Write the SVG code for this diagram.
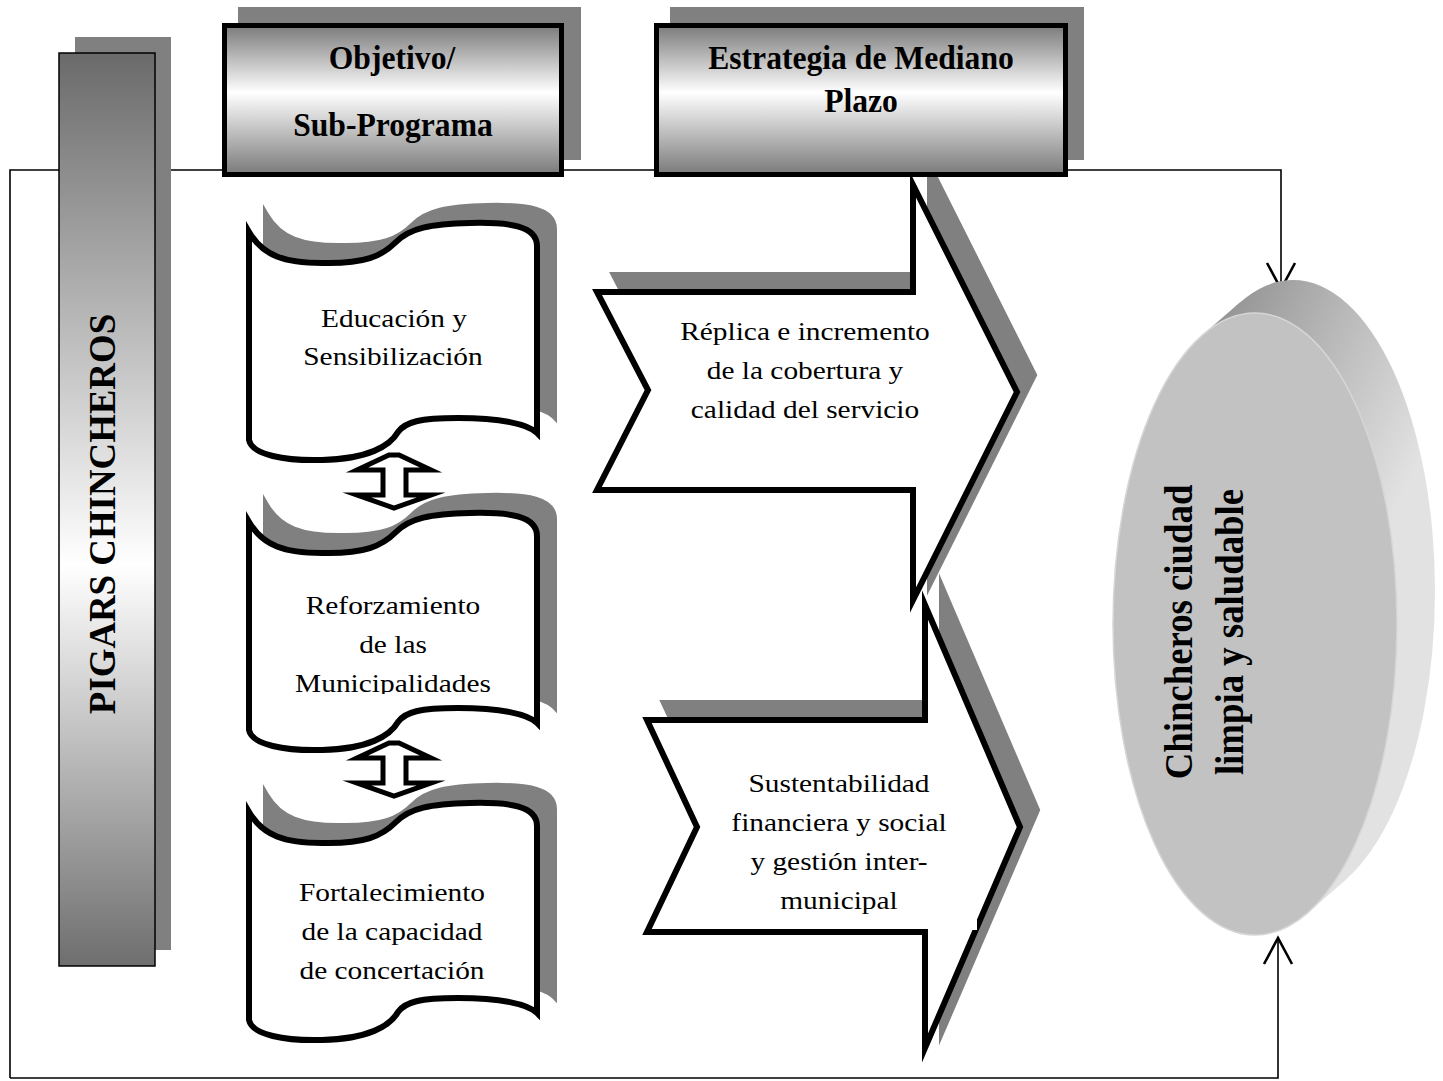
<svg xmlns="http://www.w3.org/2000/svg" width="1443" height="1081" viewBox="0 0 1443 1081">
<style>
.bg{fill:#ffffff}
.frame{fill:none;stroke:#000;stroke-width:1.6}
.shadow{fill:#808080;stroke:#808080;stroke-width:6;stroke-linejoin:miter;stroke-miterlimit:10}
.shadowbox{fill:#808080}
.front{fill:#ffffff;stroke:#000;stroke-width:6;stroke-linejoin:miter;stroke-miterlimit:10}
.hdrbox{fill:url(#hdrGrad);stroke:#000;stroke-width:5}
.bar{fill:url(#barGrad);stroke:#000;stroke-width:1.5}
.dbl{fill:#fff;stroke:#000;stroke-width:5;stroke-linejoin:miter;stroke-miterlimit:10}
.hdr{font-family:"Liberation Serif","Times New Roman",serif;font-weight:bold;font-size:34px;text-anchor:middle;fill:#000}
.vert{font-family:"Liberation Serif","Times New Roman",serif;font-weight:bold;font-size:38px;text-anchor:middle;fill:#000}
.ell{font-family:"Liberation Serif","Times New Roman",serif;font-weight:bold;font-size:40px;text-anchor:middle;fill:#000}
.lbl{font-family:"Liberation Serif","Times New Roman",serif;font-size:26px;text-anchor:middle;fill:#000}
</style>
<defs>
<linearGradient id="hdrGrad" x1="0" y1="0" x2="0" y2="1">
<stop offset="0" stop-color="#7a7a7a"/>
<stop offset="0.45" stop-color="#ffffff"/>
<stop offset="1" stop-color="#7a7a7a"/>
</linearGradient>
<linearGradient id="barGrad" x1="0" y1="0" x2="0" y2="1">
<stop offset="0" stop-color="#6a6a6a"/>
<stop offset="0.56" stop-color="#ffffff"/>
<stop offset="1" stop-color="#6e6e6e"/>
</linearGradient>
<linearGradient id="sideGrad" gradientUnits="userSpaceOnUse" x1="1200" y1="300" x2="1440" y2="420">
<stop offset="0" stop-color="#8c8c8c"/>
<stop offset="0.45" stop-color="#b4b4b4"/>
<stop offset="1" stop-color="#e2e2e2"/>
</linearGradient>
<path id="wave" d="M 249,232 C 263,256 285,263 322,263 C 365,264 382,256 396,242 C 410,228 430,224 470,223 C 510,222 537,226 537,246 L 537,433 C 528,424 500,418 458,418 C 420,418 405,422 398,432 C 390,446 368,459 322,460 C 285,461 252,455 249,440 Z"/>
<path id="dblArrow" d="M 389,0 L 399,0 L 431,15 L 406,15 L 406,40 L 431,40 L 394,53 L 357,40 L 383,40 L 383,15 L 357,15 Z"/>
<marker id="openArrow" markerUnits="userSpaceOnUse" viewBox="-30 -17 32 34" refX="0" refY="0" markerWidth="32" markerHeight="34" orient="auto" overflow="visible">
<path d="M -26,-14 L 0,0 L -26,14" fill="none" stroke="#000" stroke-width="2.6"/>
</marker>
<clipPath id="clipMuni"><rect x="240" y="560" width="310" height="134"/></clipPath>
</defs>
<rect class="bg" x="0" y="0" width="1443" height="1081"/>

<g id="connectors">
<path class="frame" d="M 10,1078 L 10,170 L 1281,170 L 1281,289" marker-end="url(#openArrow)"/>
<path class="frame" d="M 10,1078 L 1278,1078 L 1278,938" marker-end="url(#openArrow)"/>
</g>

<g id="node-pigars">
<rect class="shadowbox" x="75" y="37" width="96" height="913"/>
<rect class="bar" x="59" y="53" width="96" height="913"/>
<text class="vert" transform="translate(115,514) rotate(-90) scale(0.97,1)">PIGARS CHINCHEROS</text>
</g>

<g id="node-arrow-replica">
<path class="shadow" transform="translate(17,-17)" d="M 597,292 L 913,292 L 913,185 L 1017,392 L 913,600 L 913,490 L 597,490 L 648,390 Z"/>
<path class="front" d="M 597,292 L 913,292 L 913,185 L 1017,392 L 913,600 L 913,490 L 597,490 L 648,390 Z"/>
<text class="lbl" transform="translate(805,340) scale(1.13,1)">Réplica e incremento</text>
<text class="lbl" transform="translate(805,379) scale(1.13,1)">de la cobertura y</text>
<text class="lbl" transform="translate(805,418) scale(1.13,1)">calidad del servicio</text>
</g>

<g id="node-arrow-sustentabilidad">
<path class="shadow" transform="translate(17,-17)" d="M 647,720 L 925,720 L 925,605 L 1020,827 L 925,1048 L 925,932 L 647,932 L 697,827 Z"/>
<path class="front" d="M 647,720 L 925,720 L 925,605 L 1020,827 L 925,1048 L 925,932 L 647,932 L 697,827 Z"/>
<rect x="968" y="906" width="9" height="24" fill="#fff"/>
<text class="lbl" transform="translate(839,792) scale(1.13,1)">Sustentabilidad</text>
<text class="lbl" transform="translate(839,831) scale(1.13,1)">financiera y social</text>
<text class="lbl" transform="translate(839,870) scale(1.13,1)">y gestión inter-</text>
<text class="lbl" transform="translate(839,909) scale(1.13,1)">municipal</text>
</g>

<g id="node-header-objetivo">
<rect class="shadowbox" x="238" y="7" width="343" height="153"/>
<rect class="hdrbox" x="224.5" y="25.5" width="337" height="149"/>
<text class="hdr" transform="translate(392,69) scale(0.93,1)">Objetivo/</text>
<text class="hdr" transform="translate(393,136) scale(0.93,1)">Sub-Programa</text>
</g>

<g id="node-header-estrategia">
<rect class="shadowbox" x="670" y="7" width="414" height="153"/>
<rect class="hdrbox" x="656.5" y="25.5" width="409" height="149"/>
<text class="hdr" transform="translate(861,69) scale(0.93,1)">Estrategia de Mediano</text>
<text class="hdr" transform="translate(861,112) scale(0.93,1)">Plazo</text>
</g>

<g id="node-educacion">
<use href="#wave" class="shadow" transform="translate(17,-17)"/>
<use href="#wave" class="front"/>
<text class="lbl" transform="translate(394,327) scale(1.13,1)">Educación y</text>
<text class="lbl" transform="translate(393,365) scale(1.13,1)">Sensibilización</text>
</g>

<g id="node-dbl-1">
<use href="#dblArrow" class="dbl" transform="translate(0,455)"/>
</g>

<g id="node-reforzamiento">
<use href="#wave" class="shadow" transform="translate(17,273)"/>
<use href="#wave" class="front" transform="translate(0,290)"/>
<g clip-path="url(#clipMuni)">
<text class="lbl" transform="translate(393,614) scale(1.13,1)">Reforzamiento</text>
<text class="lbl" transform="translate(393,653) scale(1.13,1)">de las</text>
<text class="lbl" transform="translate(393,692) scale(1.13,1)">Municipalidades</text>
</g>
</g>

<g id="node-dbl-2">
<use href="#dblArrow" class="dbl" transform="translate(0,743)"/>
</g>

<g id="node-fortalecimiento">
<use href="#wave" class="shadow" transform="translate(17,563)"/>
<use href="#wave" class="front" transform="translate(0,580)"/>
<text class="lbl" transform="translate(392,901) scale(1.13,1)">Fortalecimiento</text>
<text class="lbl" transform="translate(392,940) scale(1.13,1)">de la capacidad</text>
<text class="lbl" transform="translate(392,979) scale(1.13,1)">de concertación</text>
</g>

<g id="node-chincheros">
<ellipse cx="1293" cy="591" rx="142" ry="311" fill="url(#sideGrad)"/>
<polygon points="1202.7,334.8 1240.7,301.8 1345.3,880.2 1307.3,913.2" fill="url(#sideGrad)"/>
<ellipse cx="1255" cy="624" rx="142" ry="311" fill="#c2c2c2" stroke="#d6d6d6" stroke-width="1.5"/>
<text class="ell" transform="translate(1192,632) rotate(-90) scale(0.92,1)">Chincheros ciudad</text>
<text class="ell" transform="translate(1243,632) rotate(-90) scale(0.92,1)">limpia y saludable</text>
</g>
</svg>
